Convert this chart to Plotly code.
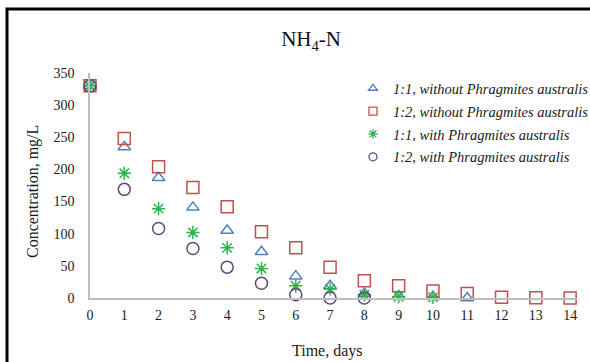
import plotly.graph_objects as go

days = list(range(15))
tri_days = list(range(12))
tri_vals = [330, 235, 187, 141, 105, 72, 34, 19, 7, 3, 2, 0]
sq_days = list(range(15))
sq_vals = [330, 248, 204, 172, 142, 103, 78, 48, 27, 19, 11, 7, 1, 0.5, 0]
star_days = list(range(11))
star_vals = [330, 194, 139, 102, 78, 46, 19, 14, 5, 2, 1]
circ_days = list(range(9))
circ_vals = [330, 169, 108, 77, 48, 23, 5, 0, 0]

names = ["1:1, without Phragmites australis", "1:2, without Phragmites australis",
         "1:1, with Phragmites australis", "1:2, with Phragmites australis"]
colors = ["#4F81BD", "#C0504D", "#2DB34A", "#604A7B"]
symbols = ["triangle-up-open", "square-open", "asterisk-open", "circle-open"]
xs = [tri_days, sq_days, star_days, circ_days]
ys = [tri_vals, sq_vals, star_vals, circ_vals]
sizes = [11, 12, 11, 12]

serif = "Liberation Serif, Times New Roman, serif"

fig = go.Figure()
for i in range(4):
    fig.add_trace(go.Scatter(
        x=xs[i], y=ys[i], mode="markers", name=names[i],
        showlegend=False,
        marker=dict(symbol=symbols[i], size=sizes[i], color=colors[i],
                    line=dict(width=1.5, color=colors[i])),
        cliponaxis=False,
    ))
for i in range(4):
    fig.add_trace(go.Scatter(
        x=[None], y=[None], mode="markers", name="<i>" + names[i] + "</i>",
        legendgroup="g%d" % i, showlegend=True,
        marker=dict(symbol=symbols[i], size=8, color=colors[i],
                    line=dict(width=1.3, color=colors[i])),
    ))

fig.update_layout(
    width=590, height=362,
    margin=dict(l=90, r=13, t=73, b=64, autoexpand=False),
    paper_bgcolor="white", plot_bgcolor="white",
    font=dict(family=serif, size=14, color="#1a1a1a"),
    title=dict(text="NH<sub>4</sub>-N", x=0.454, xref="paper", xanchor="center",
               y=1 - 39 / 362, yref="container", yanchor="middle",
               font=dict(family=serif, size=21, color="#111")),
    xaxis=dict(range=[0, 14.2], tickmode="array", tickvals=days,
               ticktext=[str(d) for d in days],
               showgrid=False, zeroline=False, showline=True,
               linecolor="#BFBFBF", linewidth=1.5,
               ticks="outside", ticklen=3, tickcolor="rgba(0,0,0,0)",
               tickfont=dict(family=serif, size=14, color="#1a1a1a")),
    yaxis=dict(range=[0, 350], tickmode="array", tickvals=[0, 50, 100, 150, 200, 250, 300, 350],
               showgrid=False, zeroline=False, showline=True,
               linecolor="#BFBFBF", linewidth=1.5,
               ticks="outside", ticklen=11, tickcolor="rgba(0,0,0,0)",
               tickfont=dict(family=serif, size=14, color="#1a1a1a")),
    legend=dict(x=0.54, y=1.003, xanchor="left", yanchor="top",
                bgcolor="rgba(0,0,0,0)", tracegroupgap=1,
                font=dict(family=serif, size=14.5, color="#1a1a1a"),
                itemwidth=30),
    showlegend=True,
    annotations=[
        dict(text="Time, days", xref="paper", yref="paper",
             x=(327 - 90) / 487, y=(298 - 351) / 225, xanchor="center", yanchor="middle",
             showarrow=False, font=dict(family=serif, size=16, color="#1a1a1a")),
        dict(text="Concentration, mg/L", xref="paper", yref="paper",
             x=(33 - 90) / 487, y=(298 - 192) / 225, xanchor="center", yanchor="middle",
             textangle=-90, showarrow=False,
             font=dict(family=serif, size=16, color="#1a1a1a")),
    ],
)

fig.add_shape(type="rect", xref="paper", yref="paper",
              x0=(7 - 90) / 487, x1=1.2, y0=-0.5, y1=(298 - 9) / 225,
              line=dict(color="black", width=3), fillcolor="rgba(0,0,0,0)", layer="below")

fig.write_html("out.html")
